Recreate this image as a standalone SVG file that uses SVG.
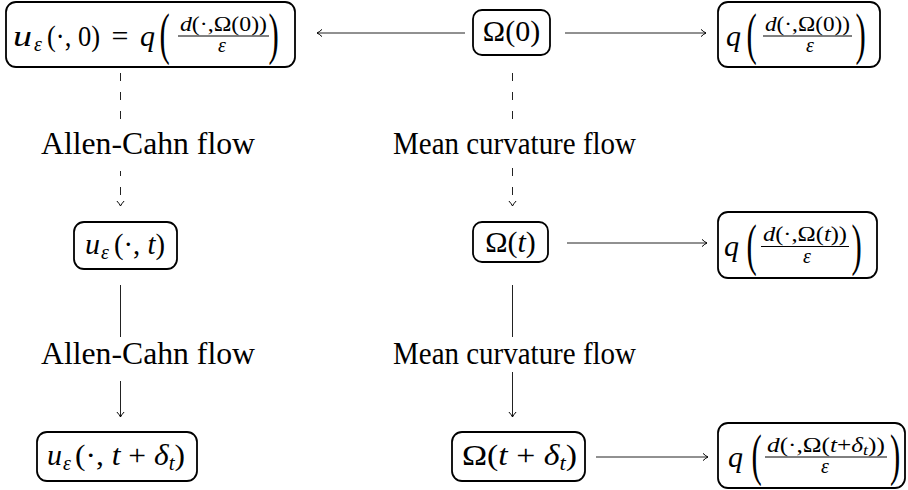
<svg xmlns="http://www.w3.org/2000/svg" width="908" height="490" viewBox="0 0 908 490">
<defs>
<style>
.box{fill:#fff;stroke:#000;stroke-width:1.8}
.m{font-family:"Liberation Serif","DejaVu Serif",serif;font-size:30px;fill:#000}
.i{font-style:italic}
.num{font-size:21px}
.den{font-size:20px}
.sub{font-size:20px}
.big{font-size:56px}
.lbl{font-family:"Liberation Serif","DejaVu Serif",serif;font-size:31.5px;fill:#000}
.bg{fill:#fff}
.conn{stroke:#222;stroke-width:1;fill:none}
.dash{stroke-dasharray:8 11}
.bar{stroke:#000;stroke-width:1}
</style>
<marker id="arr" markerUnits="userSpaceOnUse" markerWidth="12" markerHeight="12" viewBox="-8 -6 12 12" refX="0" refY="0" orient="auto">
<path d="M -5 -3.6 Q -2 -0.8 0 0 Q -2 0.8 -5 3.6" fill="none" stroke="#000" stroke-width="1"/>
</marker>
</defs>
<rect width="908" height="490" fill="#fff"/>

<g id="connectors">
<line class="conn" x1="465" y1="33" x2="317" y2="33" marker-end="url(#arr)"/>
<line class="conn" x1="565" y1="33" x2="706" y2="33" marker-end="url(#arr)"/>
<line class="conn" x1="567" y1="243" x2="707" y2="243" marker-end="url(#arr)"/>
<line class="conn" x1="596" y1="457" x2="708" y2="457" marker-end="url(#arr)"/>
<line class="conn dash" x1="120.5" y1="73" x2="120.5" y2="206" marker-end="url(#arr)"/>
<line class="conn dash" x1="512.5" y1="73" x2="512.5" y2="206" marker-end="url(#arr)"/>
<line class="conn" x1="120.5" y1="285" x2="120.5" y2="417" marker-end="url(#arr)"/>
<line class="conn" x1="512.5" y1="285" x2="512.5" y2="417" marker-end="url(#arr)"/>
</g>

<g id="label-ac1">
<rect class="bg" x="37" y="127" width="222" height="44"/>
<text class="lbl" x="41" y="154" textLength="214" lengthAdjust="spacingAndGlyphs">Allen-Cahn flow</text>
</g>
<g id="label-mc1">
<rect class="bg" x="389" y="127" width="250" height="35"/>
<text class="lbl" x="393" y="154" textLength="243" lengthAdjust="spacingAndGlyphs">Mean curvature flow</text>
</g>
<g id="label-ac2">
<rect class="bg" x="37" y="337" width="222" height="44"/>
<text class="lbl" x="41" y="364" textLength="214" lengthAdjust="spacingAndGlyphs">Allen-Cahn flow</text>
</g>
<g id="label-mc2">
<rect class="bg" x="389" y="337" width="250" height="35"/>
<text class="lbl" x="393" y="364" textLength="243" lengthAdjust="spacingAndGlyphs">Mean curvature flow</text>
</g>

<g id="node-u0">
<rect class="box" x="6" y="2" width="289" height="65" rx="10"/>
<text class="m i" x="13" y="46" textLength="19" lengthAdjust="spacingAndGlyphs">u</text>
<text class="m i sub" x="34" y="51">ε</text>
<text class="m" x="47" y="46" textLength="53" lengthAdjust="spacingAndGlyphs">(·, 0)</text>
<text class="m" x="120" y="46" text-anchor="middle">=</text>
<text class="m i" x="140" y="46">q</text>
<text class="m big" transform="translate(159.5,53) scale(0.55,1)">(</text>
<text class="m num" x="223.5" y="31" text-anchor="middle" textLength="87" lengthAdjust="spacingAndGlyphs"><tspan class="i">d</tspan>(·,Ω(0))</text>
<line class="bar" x1="178" y1="36" x2="269" y2="36"/>
<text class="m den i" x="222" y="52" text-anchor="middle">ε</text>
<text class="m big" transform="translate(268.5,53) scale(0.55,1)">)</text>
</g>

<g id="node-omega0">
<rect class="box" x="473" y="10" width="77" height="45" rx="9"/>
<text class="m" x="511.5" y="41" text-anchor="middle">Ω(0)</text>
</g>

<g id="node-q0">
<rect class="box" x="718" y="2" width="162" height="65" rx="10"/>
<text class="m i" x="726" y="46">q</text>
<text class="m big" transform="translate(746.5,53) scale(0.55,1)">(</text>
<text class="m num" x="807.5" y="31" text-anchor="middle" textLength="85" lengthAdjust="spacingAndGlyphs"><tspan class="i">d</tspan>(·,Ω(0))</text>
<line class="bar" x1="763" y1="36" x2="852" y2="36"/>
<text class="m den i" x="810" y="52" text-anchor="middle">ε</text>
<text class="m big" transform="translate(855.5,53) scale(0.55,1)">)</text>
</g>

<g id="node-ut">
<rect class="box" x="74" y="222" width="103" height="47" rx="10"/>
<text class="m i" x="85" y="254">u</text>
<text class="m i sub" x="101" y="259">ε</text>
<text class="m" x="114" y="254" textLength="51" lengthAdjust="spacingAndGlyphs">(·, <tspan class="i">t</tspan>)</text>
</g>

<g id="node-omegat">
<rect class="box" x="473" y="222" width="75" height="40" rx="9"/>
<text class="m" x="510.5" y="252" text-anchor="middle">Ω(<tspan class="i">t</tspan>)</text>
</g>

<g id="node-qt">
<rect class="box" x="718" y="212" width="159" height="66" rx="10"/>
<text class="m i" x="724" y="256">q</text>
<text class="m big" transform="translate(746.5,263.5) scale(0.55,1)">(</text>
<text class="m num" x="805" y="241" text-anchor="middle" textLength="84" lengthAdjust="spacingAndGlyphs"><tspan class="i">d</tspan>(·,Ω(<tspan class="i">t</tspan>))</text>
<line class="bar" x1="761" y1="246.5" x2="849" y2="246.5"/>
<text class="m den i" x="807" y="262.5" text-anchor="middle">ε</text>
<text class="m big" transform="translate(851.5,263.5) scale(0.55,1)">)</text>
</g>

<g id="node-utd">
<rect class="box" x="37" y="432" width="160" height="49" rx="10"/>
<text class="m i" x="47" y="465">u</text>
<text class="m i sub" x="63" y="470">ε</text>
<text class="m" x="75" y="465" textLength="110" lengthAdjust="spacingAndGlyphs">(·, <tspan class="i">t</tspan> + <tspan class="i">δ</tspan><tspan class="i" font-size="20" dy="5">t</tspan><tspan dy="-5">)</tspan></text>
</g>

<g id="node-omegatd">
<rect class="box" x="452" y="432" width="133" height="49" rx="10"/>
<text class="m" x="462" y="465" textLength="115" lengthAdjust="spacingAndGlyphs">Ω(<tspan class="i">t</tspan> + <tspan class="i">δ</tspan><tspan class="i" font-size="20" dy="5">t</tspan><tspan dy="-5">)</tspan></text>
</g>

<g id="node-qtd">
<rect class="box" x="718" y="423" width="187" height="65" rx="10"/>
<text class="m i" x="728" y="467">q</text>
<text class="m big" transform="translate(751.5,474) scale(0.55,1)">(</text>
<text class="m num" x="826" y="451.5" text-anchor="middle" textLength="118" lengthAdjust="spacingAndGlyphs"><tspan class="i">d</tspan>(·,Ω(<tspan class="i">t</tspan>+<tspan class="i">δ</tspan><tspan class="i" font-size="15" dy="3">t</tspan><tspan dy="-3">))</tspan></text>
<line class="bar" x1="765" y1="457" x2="887" y2="457"/>
<text class="m den i" x="825" y="473" text-anchor="middle">ε</text>
<text class="m big" transform="translate(890,474) scale(0.55,1)">)</text>
</g>
</svg>
